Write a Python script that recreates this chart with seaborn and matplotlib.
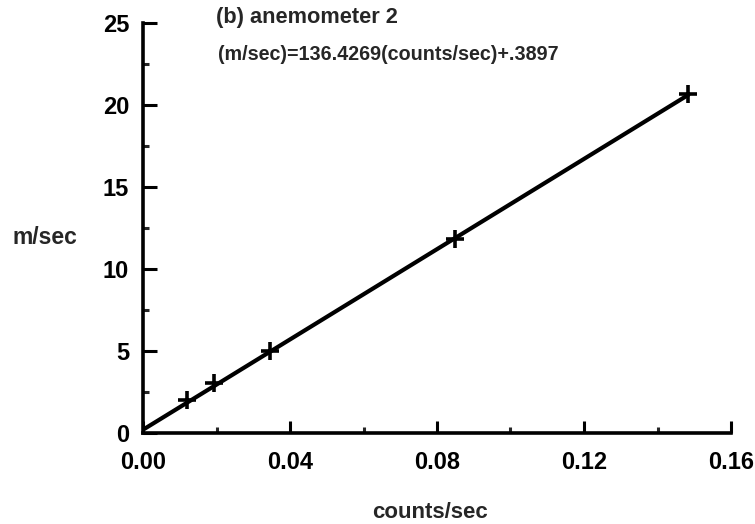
import matplotlib
matplotlib.use("Agg")
import matplotlib.pyplot as plt
import seaborn as sns
import pandas as pd
from matplotlib.ticker import MultipleLocator

# data
counts = [0.0119, 0.0194, 0.0346, 0.0849, 0.1484]
speed = [2.0, 3.03, 5.02, 11.8, 20.7]
fit_x = [0.0, 0.1484]
fit_y = [0.2, 20.62]
x_ticks = [0.00, 0.04, 0.08, 0.12, 0.16]
x_tick_labels = ["0.00", "0.04", "0.08", "0.12", "0.16"]
y_ticks = [0, 5, 10, 15, 20, 25]
title = "(b) anemometer 2"
equation = "(m/sec)=136.4269(counts/sec)+.3897"

sns.set_style("ticks")
plt.rcParams["font.family"] = ["Liberation Sans", "DejaVu Sans"]
plt.rcParams["font.weight"] = "bold"

fig = plt.figure(figsize=(7.55, 5.24), dpi=100)
ax = fig.add_axes([143/755, 1-433/524, (731-143)/755, (433-23)/524])

pts = pd.DataFrame({"x": counts, "y": speed})
fit = pd.DataFrame({"x": fit_x, "y": fit_y})
sns.lineplot(data=fit, x="x", y="y", ax=ax, color="black", linewidth=3.0)
sns.scatterplot(data=pts, x="x", y="y", ax=ax, marker="+", s=170,
                color="black", linewidth=2.6, zorder=5)

ax.set_xlim(0, 0.16)
ax.set_ylim(0, 25)
ax.set_xticks(x_ticks)
ax.set_xticklabels(x_tick_labels)
ax.set_yticks(y_ticks)
ax.xaxis.set_minor_locator(MultipleLocator(0.02))
ax.yaxis.set_minor_locator(MultipleLocator(2.5))
ax.tick_params(axis="both", which="major", direction="in", length=9,
               width=2.2, labelsize=17, colors="black")
ax.tick_params(axis="both", which="minor", direction="in", length=4.5, width=2.2)
ax.tick_params(axis="x", which="major", pad=13)
ax.tick_params(axis="y", which="major", length=10, pad=10)
for lab in ax.get_xticklabels() + ax.get_yticklabels():
    lab.set_fontweight("bold")

for s in ["top", "right"]:
    ax.spines[s].set_visible(False)
for s in ["left", "bottom"]:
    ax.spines[s].set_linewidth(2.6)
    ax.spines[s].set_color("black")

ax.set_xlabel("")
ax.set_ylabel("")
fig.text(430/755, 1-512/524, "counts/sec", ha="center", va="center",
         fontsize=16, fontweight="bold")
fig.text(13/755, 1-238/524, "m/sec", ha="left", va="center",
         fontsize=16.5, fontweight="bold")
fig.text(216/755, 1-17/524, title, ha="left", va="center",
         fontsize=15.7, fontweight="bold")
fig.text(218/755, 1-55/524, equation, ha="left", va="center",
         fontsize=14.2, fontweight="bold")

fig.savefig("out.png", dpi=100)
